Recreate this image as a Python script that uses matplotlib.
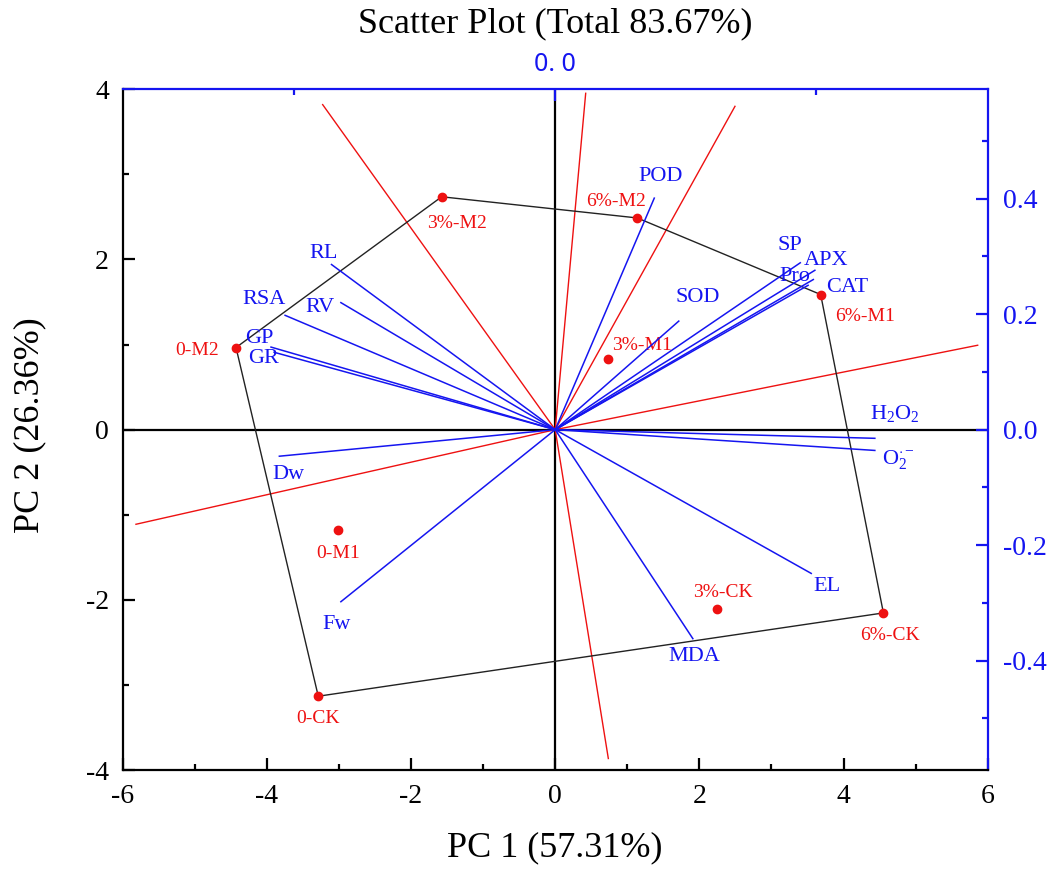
import matplotlib
matplotlib.use('Agg')
import matplotlib.pyplot as plt
from matplotlib.ticker import MultipleLocator, FixedLocator, FixedFormatter

plt.rcParams['font.family'] = ['Liberation Serif', 'DejaVu Serif']
plt.rcParams['axes.unicode_minus'] = False
plt.rcParams['mathtext.fontset'] = 'custom'
plt.rcParams['mathtext.rm'] = 'Liberation Serif'
plt.rcParams['mathtext.it'] = 'Liberation Serif:italic'
plt.rcParams['mathtext.bf'] = 'Liberation Serif:bold'

# ---------------- data ----------------
samples = ['0-CK', '0-M1', '0-M2', '3%-CK', '3%-M1', '3%-M2', '6%-CK', '6%-M1', '6%-M2']
pc1 = [-3.287, -3.017, -4.428, 2.240, 0.728, -1.575, 4.553, 3.683, 1.139]
pc2 = [-3.133, -1.174, 0.965, -2.111, 0.827, 2.737, -2.154, 1.588, 2.488]
hull_order = ['0-M2', '3%-M2', '6%-M2', '6%-M1', '6%-CK', '0-CK', '0-M2']

variables = ['POD', 'SOD', 'SP', 'APX', 'Pro', 'CAT', 'H$_2$O$_2$', r'O$_2^{\cdot -}$',
             'EL', 'MDA', 'Fw', 'Dw', 'RL', 'RV', 'RSA', 'GP', 'GR']
load1 = [0.190, 0.237, 0.470, 0.498, 0.495, 0.485, 0.613, 0.613,
         0.491, 0.264, -0.411, -0.529, -0.429, -0.411, -0.518, -0.545, -0.539]
load2 = [0.401, 0.188, 0.289, 0.276, 0.260, 0.250, -0.015, -0.036,
         -0.249, -0.362, -0.298, -0.046, 0.286, 0.220, 0.198, 0.143, 0.134]

ray_x = [-3.226, 0.423, 2.494, 5.861, -5.816, 0.737]
ray_y = [3.820, 3.953, 3.800, 0.992, -1.112, -3.865]

title = 'Scatter Plot (Total 83.67%)'
xlabel = 'PC 1 (57.31%)'
ylabel = 'PC 2 (26.36%)'

# label offsets (pixels) -- layout only
sample_off = {'0-CK': (0, -22), '0-M1': (0, -24), '0-M2': (-39, -3), '3%-CK': (6, 17),
              '3%-M1': (34, 14), '3%-M2': (15, -27), '6%-CK': (7, -23), '6%-M1': (44, -22),
              '6%-M2': (-21, 16)}
var_off = [(6, 22), (19, 24), (-10, 17), (11, 10), (-19, 3), (39, -2), (20, 25), (24, -9),
           (16, -13), (1, -18), (-4, -23), (9, -18), (-8, 11), (-21, -5), (-21, 16),
           (-12, 9), (-11, -6)]

# ---------------- figure ----------------
W, H = 1063, 869
fig = plt.figure(figsize=(W / 100, H / 100), dpi=100)
pos = [122.7 / W, 1 - 770 / H, 865 / W, 680.7 / H]
ax = fig.add_axes(pos)
ax.set_xlim(-6, 6)
ax.set_ylim(-4, 4)

blue = '#1515f0'
red = '#ee1111'

# zero lines
ax.axhline(0, color='black', lw=1.6, zorder=1)
ax.axvline(0, color='black', lw=1.6, zorder=1)

# red rays
for rx, ry in zip(ray_x, ray_y):
    ax.plot([0, rx], [0, ry], color=red, lw=1.0, zorder=2)

# hull
idx = {s: i for i, s in enumerate(samples)}
hx = [pc1[idx[s]] for s in hull_order]
hy = [pc2[idx[s]] for s in hull_order]
ax.plot(hx, hy, color='#222222', lw=1.0, zorder=3)

# sample points
ax.plot(pc1, pc2, 'o', color=red, ms=6, zorder=4, mec=red)
for s, x, y in zip(samples, pc1, pc2):
    ax.annotate(s, (x, y), xytext=sample_off[s], textcoords='offset pixels',
                ha='center', va='center', color=red, fontsize=14, zorder=5)

# main axes styling
for side in ['left', 'bottom']:
    ax.spines[side].set_color('black')
    ax.spines[side].set_linewidth(1.6)
for side in ['top', 'right']:
    ax.spines[side].set_color(blue)
    ax.spines[side].set_linewidth(1.6)
ax.xaxis.set_major_locator(MultipleLocator(2))
ax.xaxis.set_minor_locator(MultipleLocator(1))
ax.yaxis.set_major_locator(MultipleLocator(2))
ax.yaxis.set_minor_locator(MultipleLocator(1))
ax.tick_params(which='both', direction='in', top=False, right=False, labelsize=20, width=1.6)
ax.tick_params(which='major', length=8.5)
ax.tick_params(which='minor', length=4.5)
ax.tick_params(axis='x', pad=10)
ax.tick_params(axis='y', pad=10)

# loadings axes
kx, ky = 7.234, 6.786
ax2 = fig.add_axes(pos, frameon=False)
ax2.set_xlim(-6 / kx, 6 / kx)
ax2.set_ylim(-4 / ky, 4 / ky)
ax2.xaxis.tick_top()
ax2.yaxis.tick_right()
ax2.xaxis.set_major_locator(FixedLocator([0.0]))
ax2.xaxis.set_major_formatter(FixedFormatter(['0. 0']))
ax2.xaxis.set_minor_locator(FixedLocator([-0.5, 0.5]))
ax2.yaxis.set_major_locator(MultipleLocator(0.2))
ax2.yaxis.set_minor_locator(MultipleLocator(0.1))
ax2.yaxis.set_major_formatter(matplotlib.ticker.FormatStrFormatter('%.1f'))
ax2.tick_params(which='both', direction='in', colors=blue, width=1.6)
ax2.tick_params(which='major', length=8.5)
ax2.tick_params(which='minor', length=4.5)
ax2.tick_params(axis='y', labelsize=20, pad=11)
ax2.tick_params(axis='x', labelsize=18, pad=9)
for lab in ax2.get_xticklabels():
    lab.set_fontfamily(['Noto Sans', 'DejaVu Sans'])

for name, l1, l2, off in zip(variables, load1, load2, var_off):
    ax2.plot([0, l1], [0, l2], color=blue, lw=1.1, zorder=3)
    ax2.annotate(name, (l1, l2), xytext=off, textcoords='offset pixels',
                 ha='center', va='center', color=blue, fontsize=16)

# titles
cx = (122.7 + 987.7) / 2 / W
fig.text(cx, 1 - 24 / H, title, ha='center', va='center', fontsize=26)
fig.text(cx, 1 - 848 / H, xlabel, ha='center', va='center', fontsize=26)
fig.text(30 / W, 1 - 425 / H, ylabel, ha='center', va='center', fontsize=26, rotation=90)

fig.savefig('out.png', dpi=100)
